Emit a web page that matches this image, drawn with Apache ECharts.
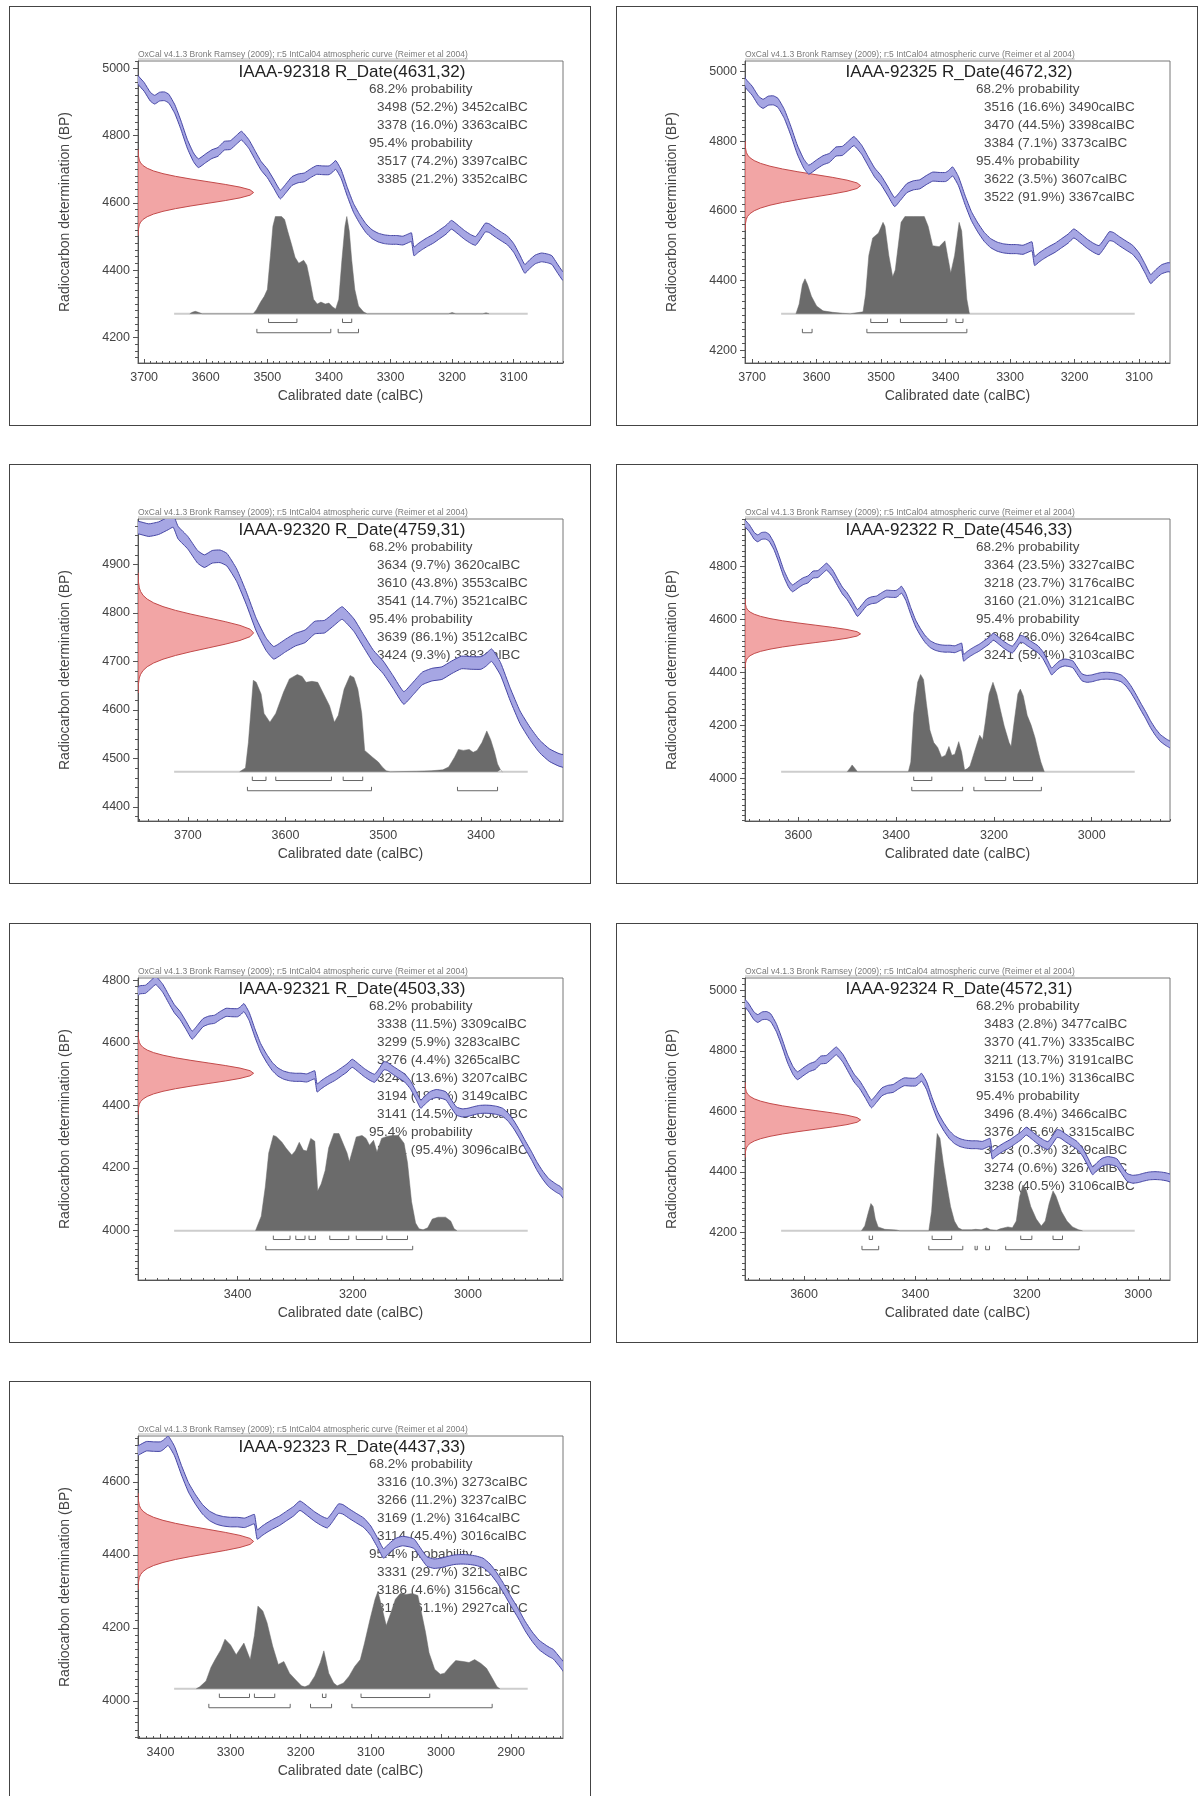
<!DOCTYPE html>
<html>
<head>
<meta charset="utf-8">
<title>OxCal radiocarbon calibration plots</title>
<script src="https://cdn.jsdelivr.net/npm/echarts@6/dist/echarts.min.js"></script>
<style>
  html, body { margin: 0; padding: 0; background: #fff; }
  body { width: 1200px; height: 1796px; position: relative; overflow: hidden; }
  .panel { position: absolute; width: 582px; height: 420px; border: 1px solid #444; box-sizing: border-box; background: #fff; }
</style>
</head>
<body>
<div id="p0" class="panel" style="left:9px;top:6px"></div>
<div id="p1" class="panel" style="left:616px;top:6px"></div>
<div id="p2" class="panel" style="left:9px;top:464px"></div>
<div id="p3" class="panel" style="left:616px;top:464px"></div>
<div id="p4" class="panel" style="left:9px;top:923px"></div>
<div id="p5" class="panel" style="left:616px;top:923px"></div>
<div id="p6" class="panel" style="left:9px;top:1381px;height:420px"></div>
<script>
// ---------------- texts ----------------
const HEADER_TEXT = 'OxCal v4.1.3 Bronk Ramsey (2009); r:5 IntCal04 atmospheric curve (Reimer et al 2004)';
const X_TITLE = 'Calibrated date (calBC)';
const Y_TITLE = 'Radiocarbon determination (BP)';

// ---------------- shared IntCal04 calibration curve ----------------
const calYears = [3760,3750,3740,3730,3720,3715,3710,3700,3690,3683,3675,3667,3660,3650,3640,3630,3620,3612,3600,3590,3580,3570,3560,3550,3542,3530,3520,3510,3500,3490,3479,3470,3460,3450,3440,3430,3420,3410,3400,3395,3389,3380,3370,3360,3350,3340,3330,3320,3310,3300,3290,3280,3272,3266,3262,3255,3248,3240,3230,3220,3210,3201,3190,3180,3170,3162,3155,3146,3140,3130,3120,3110,3100,3090,3082,3074,3065,3055,3045,3038,3030,3020,3010,3000,2990,2980,2970,2960,2950,2940,2930,2920,2910,2900,2890,2880,2870,2860,2850,2845,2840,2830,2820];
const calBP    = [4978,4976,4971,4975,4985,4990,4966,4945,4916,4907,4916,4917,4910,4878,4830,4776,4736,4718,4733,4745,4752,4770,4772,4788,4800,4775,4742,4710,4688,4658,4625,4643,4665,4673,4676,4688,4698,4697,4697,4703,4713,4685,4632,4585,4552,4525,4507,4497,4492,4490,4490,4488,4494,4498,4456,4466,4475,4484,4494,4507,4520,4535,4520,4505,4493,4487,4503,4527,4525,4512,4500,4488,4466,4432,4404,4418,4432,4438,4435,4430,4408,4382,4376,4378,4383,4387,4388,4387,4384,4378,4362,4337,4306,4272,4240,4205,4176,4153,4139,4133,4128,4105,4080];
const calHalfWidth = 13;   // 1-sigma half width of the band (BP)

// normal profile of the measured date (offsets in sigma, relative density)
const gaussSigmaSteps = [-4,-3.5,-3,-2.75,-2.5,-2.25,-2,-1.75,-1.5,-1.25,-1,-0.75,-0.5,-0.25,0,0.25,0.5,0.75,1,1.25,1.5,1.75,2,2.25,2.5,2.75,3,3.5,4];
const gaussDensity    = [0.0003,0.0022,0.0111,0.0228,0.0439,0.0796,0.1353,0.2163,0.3247,0.4578,0.6065,0.7548,0.8825,0.9692,1,0.9692,0.8825,0.7548,0.6065,0.4578,0.3247,0.2163,0.1353,0.0796,0.0439,0.0228,0.0111,0.0022,0.0003];

// ---------------- panel 1 : IAAA-92318 ----------------
const p1Name = 'IAAA-92318';
const p1Date = [4631, 32];
const p1XRange = [3020, 3710];
const p1YRange = [4124, 5022];
const p1XTicks = [3700,3600,3500,3400,3300,3200,3100];
const p1YTicks = [4200,4400,4600,4800,5000];
const p1Range68 = [[3498,52.2,3452],[3378,16.0,3363]];
const p1Range95 = [[3517,74.2,3397],[3385,21.2,3352]];
const p1PostYears = [3626,3622,3617,3612,3606,3523,3518,3511,3505,3500,3495,3491,3487,3477,3472,3467,3461,3455,3449,3441,3436,3431,3425,3419,3413,3406,3400,3394,3389,3384,3379,3374,3371,3367,3363,3358,3352,3344,3338,3206,3200,3194,3150,3145,3140];
const p1PostProb  = [0,0.015,0.025,0.015,0,0,0.04,0.12,0.18,0.25,0.6,0.9,1.0,1.0,0.97,0.85,0.72,0.58,0.52,0.55,0.5,0.35,0.15,0.1,0.12,0.1,0.11,0.07,0.05,0.15,0.55,0.9,1.0,0.85,0.55,0.25,0.08,0.02,0,0,0.012,0,0,0.01,0];

// ---------------- panel 2 : IAAA-92325 ----------------
const p2Name = 'IAAA-92325';
const p2Date = [4672, 32];
const p2XRange = [3052, 3711];
const p2YRange = [4163, 5030];
const p2XTicks = [3700,3600,3500,3400,3300,3200,3100];
const p2YTicks = [4200,4400,4600,4800,5000];
const p2Range68 = [[3516,16.6,3490],[3470,44.5,3398],[3384,7.1,3373]];
const p2Range95 = [[3622,3.5,3607],[3522,91.9,3367]];
const p2PostYears = [3632,3627,3622,3618,3614,3608,3600,3590,3575,3560,3548,3528,3524,3519,3513,3504,3497,3494,3488,3482,3478,3469,3463,3450,3440,3433,3427,3420,3410,3401,3397,3392,3386,3379,3375,3371,3367,3363];
const p2PostProb  = [0,0.1,0.3,0.36,0.3,0.18,0.08,0.03,0.015,0.005,0,0.02,0.2,0.6,0.78,0.83,0.94,0.9,0.6,0.38,0.45,0.94,1.0,1.0,1.0,1.0,0.9,0.7,0.69,0.75,0.6,0.42,0.6,0.94,0.85,0.5,0.15,0];

// ---------------- panel 3 : IAAA-92320 ----------------
const p3Name = 'IAAA-92320';
const p3Date = [4759, 31];
const p3XRange = [3316, 3751];
const p3YRange = [4371, 4994];
const p3XTicks = [3700,3600,3500,3400];
const p3YTicks = [4400,4500,4600,4700,4800,4900];
const p3Range68 = [[3634,9.7,3620],[3610,43.8,3553],[3541,14.7,3521]];
const p3Range95 = [[3639,86.1,3512],[3424,9.3,3383]];
const p3PostYears = [3647,3641,3638,3633,3630,3625,3622,3616,3610,3602,3596,3588,3583,3579,3573,3567,3561,3555,3550,3546,3540,3534,3530,3526,3522,3519,3511,3505,3501,3497,3493,3466,3451,3439,3433,3427,3423,3418,3412,3408,3404,3399,3394,3390,3386,3383,3380,3378];
const p3PostProb  = [0,0.04,0.3,0.94,0.92,0.8,0.6,0.51,0.6,0.82,0.955,1.0,0.98,0.92,0.93,0.92,0.8,0.68,0.51,0.58,0.85,0.99,0.97,0.85,0.6,0.22,0.15,0.1,0.05,0.01,0,0.005,0.01,0.02,0.05,0.15,0.23,0.22,0.23,0.2,0.22,0.3,0.42,0.33,0.2,0.08,0.02,0];

// ---------------- panel 4 : IAAA-92322 ----------------
const p4Name = 'IAAA-92322';
const p4Date = [4546, 33];
const p4XRange = [2840, 3709];
const p4YRange = [3839, 4980];
const p4XTicks = [3600,3400,3200,3000];
const p4YTicks = [4000,4200,4400,4600,4800];
const p4Range68 = [[3364,23.5,3327],[3218,23.7,3176],[3160,21.0,3121]];
const p4Range95 = [[3368,36.0,3264],[3241,59.4,3103]];
const p4PostYears = [3500,3494,3490,3485,3479,3375,3370,3364,3356,3350,3344,3338,3331,3323,3315,3307,3299,3292,3286,3280,3272,3266,3260,3255,3249,3237,3229,3223,3218,3210,3202,3194,3186,3179,3169,3165,3159,3151,3146,3140,3132,3124,3116,3110,3104,3097];
const p4PostProb  = [0,0.04,0.07,0.04,0,0,0.1,0.6,0.92,1.0,0.95,0.7,0.43,0.3,0.25,0.15,0.17,0.26,0.17,0.18,0.31,0.2,0.02,0.03,0.06,0.25,0.375,0.33,0.5,0.8,0.92,0.8,0.62,0.47,0.3,0.26,0.5,0.8,0.85,0.78,0.58,0.48,0.35,0.22,0.1,0];

// ---------------- panel 5 : IAAA-92321 ----------------
const p5Name = 'IAAA-92321';
const p5Date = [4503, 33];
const p5XRange = [2835, 3573];
const p5YRange = [3841, 4808];
const p5XTicks = [3400,3200,3000];
const p5YTicks = [4000,4200,4400,4600,4800];
const p5Range68 = [[3338,11.5,3309],[3299,5.9,3283],[3276,4.4,3265],[3240,13.6,3207],[3194,18.4,3149],[3141,14.5,3105]];
const p5Range95 = [[3351,95.4,3096]];
const p5PostYears = [3369,3359,3352,3346,3338,3333,3323,3316,3306,3300,3293,3286,3280,3273,3266,3261,3255,3248,3242,3233,3224,3217,3210,3206,3194,3184,3177,3171,3164,3158,3150,3141,3131,3121,3111,3105,3098,3091,3085,3078,3070,3062,3052,3039,3030,3024,3019];
const p5PostProb  = [0,0.15,0.45,0.8,0.98,0.97,0.91,0.85,0.78,0.82,0.91,0.83,0.82,0.95,0.92,0.41,0.48,0.62,0.85,1.0,1.0,0.9,0.8,0.71,0.965,0.98,0.95,0.88,0.93,0.81,0.95,0.97,0.98,0.98,0.9,0.7,0.3,0.08,0.02,0.01,0.03,0.12,0.14,0.14,0.1,0.02,0];

// ---------------- panel 6 : IAAA-92324 ----------------
const p6Name = 'IAAA-92324';
const p6Date = [4572, 31];
const p6XRange = [2943, 3706];
const p6YRange = [4043, 5041];
const p6XTicks = [3600,3400,3200,3000];
const p6YTicks = [4200,4400,4600,4800,5000];
const p6Range68 = [[3483,2.8,3477],[3370,41.7,3335],[3211,13.7,3191],[3153,10.1,3136]];
const p6Range95 = [[3496,8.4,3466],[3376,45.6,3315],[3293,0.3,3289],[3274,0.6,3267],[3238,40.5,3106]];
const p6PostYears = [3497,3491,3485,3480,3476,3472,3467,3455,3435,3428,3376,3371,3365,3361,3356,3350,3343,3337,3330,3323,3316,3299,3292,3282,3272,3265,3254,3248,3234,3226,3219,3213,3207,3201,3193,3183,3174,3167,3160,3153,3148,3138,3128,3118,3107,3100];
const p6PostProb  = [0,0.05,0.18,0.28,0.25,0.12,0.04,0.015,0.008,0,0,0.2,0.7,1.0,0.95,0.7,0.45,0.25,0.1,0.03,0.01,0.01,0.015,0.01,0.03,0.01,0.005,0.02,0.04,0.03,0.1,0.35,0.47,0.42,0.25,0.12,0.05,0.1,0.28,0.41,0.36,0.2,0.1,0.04,0.01,0];

// ---------------- panel 7 : IAAA-92323 ----------------
const p7Name = 'IAAA-92323';
const p7Date = [4437, 33];
const p7XRange = [2826, 3432];
const p7YRange = [3898, 4726];
const p7XTicks = [3400,3300,3200,3100,3000,2900];
const p7YTicks = [4000,4200,4400,4600];
const p7Range68 = [[3316,10.3,3273],[3266,11.2,3237],[3169,1.2,3164],[3114,45.4,3016]];
const p7Range95 = [[3331,29.7,3215],[3186,4.6,3156],[3127,61.1,2927]];
const p7PostYears = [3349,3344,3335,3328,3322,3314,3308,3300,3292,3281,3272,3266,3261,3254,3248,3240,3232,3224,3216,3207,3199,3194,3188,3180,3172,3167,3160,3153,3148,3139,3131,3123,3115,3109,3101,3094,3090,3085,3078,3071,3065,3058,3050,3041,3033,3028,3022,3017,3009,3001,2995,2987,2979,2968,2960,2952,2943,2935,2927,2920,2916];
const p7PostProb  = [0,0.02,0.08,0.22,0.3,0.4,0.51,0.45,0.35,0.47,0.3,0.55,0.85,0.8,0.68,0.44,0.25,0.28,0.16,0.09,0.03,0.02,0.04,0.13,0.27,0.39,0.16,0.06,0.03,0.06,0.13,0.23,0.3,0.47,0.72,0.92,1.0,0.86,0.65,0.79,0.92,0.98,0.97,0.98,0.96,0.79,0.58,0.37,0.2,0.15,0.16,0.23,0.29,0.28,0.27,0.3,0.26,0.21,0.11,0.02,0];

const panels = [
  {name:p1Name, date:p1Date, xr:p1XRange, yr:p1YRange, xt:p1XTicks, yt:p1YTicks, r68:p1Range68, r95:p1Range95, py:p1PostYears, pp:p1PostProb, xMinor:10},
  {name:p2Name, date:p2Date, xr:p2XRange, yr:p2YRange, xt:p2XTicks, yt:p2YTicks, r68:p2Range68, r95:p2Range95, py:p2PostYears, pp:p2PostProb, xMinor:10},
  {name:p3Name, date:p3Date, xr:p3XRange, yr:p3YRange, xt:p3XTicks, yt:p3YTicks, r68:p3Range68, r95:p3Range95, py:p3PostYears, pp:p3PostProb, xMinor:10},
  {name:p4Name, date:p4Date, xr:p4XRange, yr:p4YRange, xt:p4XTicks, yt:p4YTicks, r68:p4Range68, r95:p4Range95, py:p4PostYears, pp:p4PostProb, xMinor:20},
  {name:p5Name, date:p5Date, xr:p5XRange, yr:p5YRange, xt:p5XTicks, yt:p5YTicks, r68:p5Range68, r95:p5Range95, py:p5PostYears, pp:p5PostProb, xMinor:20},
  {name:p6Name, date:p6Date, xr:p6XRange, yr:p6YRange, xt:p6XTicks, yt:p6YTicks, r68:p6Range68, r95:p6Range95, py:p6PostYears, pp:p6PostProb, xMinor:20},
  {name:p7Name, date:p7Date, xr:p7XRange, yr:p7YRange, xt:p7XTicks, yt:p7YTicks, r68:p7Range68, r95:p7Range95, py:p7PostYears, pp:p7PostProb, xMinor:10}
];

// ---------------- layout / style ----------------
const FONT = "'Liberation Sans', Arial, Helvetica, sans-serif";
const GRID = {left: 128, top: 54, width: 425, height: 302};
const RED_WIDTH_FRAC = 0.272;          // red curve peak width as fraction of plot width
const POST_BASE_FRAC = 0.163;          // baseline of posterior (fraction of plot height)
const POST_PEAK_FRAC = 0.485;          // top of posterior
const BASE_X_FRAC = [0.085, 0.917];    // baseline horizontal extent
const BR68 = -0.09, BR95 = -0.195, BR_TICK = 0.04;

function minorTicks(lo, hi, step) {
  const out = [];
  for (let v = Math.ceil(lo / step) * step; v <= hi; v += step) out.push(v);
  return out;
}
function measure(txt, font) {
  const c = document.createElement('canvas').getContext('2d');
  c.font = font; return c.measureText(txt).width;
}
function fmtRange(r) {
  return r[0] + ' (' + r[1].toFixed(1) + '%) ' + r[2] + 'calBC';
}

function buildOption(p) {
  const xMin = p.xr[0], xMax = p.xr[1];
  const yMin = p.yr[0], yMax = p.yr[1];
  const span = 1 / (POST_PEAK_FRAC - POST_BASE_FRAC);
  const pMin = -POST_BASE_FRAC * span, pMax = pMin + span;
  const baseStart = xMax - BASE_X_FRAC[0] * (xMax - xMin);
  const baseEnd = xMax - BASE_X_FRAC[1] * (xMax - xMin);

  const axisLineStyle = {color: '#555', width: 1};
  const labelStyle = {color: '#444', fontSize: 12.5, fontFamily: FONT};

  const post = p.py.map((y, i) => [y, p.pp[i]]);
  const brackets = p.r68.map(r => [r[0], r[2], BR68]).concat(p.r95.map(r => [r[0], r[2], BR95]));
  const gauss = gaussSigmaSteps.map((k, i) => [gaussDensity[i], p.date[0] + k * p.date[1]]);
  const cal = calYears.map((y, i) => [y, calBP[i]]);

  const lines = [{t: '68.2% probability', ind: 0}]
    .concat(p.r68.map(r => ({t: fmtRange(r), ind: 1})))
    .concat([{t: '95.4% probability', ind: 0}])
    .concat(p.r95.map(r => ({t: fmtRange(r), ind: 1})));

  const headerFont = '8.5px ' + FONT;
  const hw = measure(HEADER_TEXT, headerFont);
  const graphic = [
    {type: 'text', x: GRID.left, y: 48, z: 0,
      style: {text: HEADER_TEXT, fontSize: 8.5, fontFamily: FONT, fill: '#7a7a7a', verticalAlign: 'middle', align: 'left'}},
    {type: 'line', z: 0, shape: {x1: GRID.left, y1: 52, x2: GRID.left + hw, y2: 52},
      style: {stroke: '#8a8a8a', lineWidth: 0.6}},
    {type: 'text', x: 342, y: 65, z: 0,
      style: {text: p.name + ' R_Date(' + p.date[0] + ',' + p.date[1] + ')', fontSize: 17, fontFamily: FONT,
        fill: '#222', align: 'center', verticalAlign: 'middle'}}
  ];
  lines.forEach((l, i) => {
    graphic.push({type: 'text', x: 359 + (l.ind ? 8 : 0), y: 82 + i * 18, z: 0,
      style: {text: l.t, fontSize: 13.5, fontFamily: FONT, fill: '#4a4a4a', align: 'left', verticalAlign: 'middle'}});
  });

  return {
    animation: false,
    backgroundColor: '#fff',
    grid: {left: GRID.left, top: GRID.top, width: GRID.width, height: GRID.height,
      show: true, borderColor: '#777', borderWidth: 1, backgroundColor: 'transparent'},
    graphic: graphic,
    xAxis: [
      {type: 'value', min: xMin, max: xMax, inverse: true, position: 'bottom',
        axisLine: {show: true, onZero: false, lineStyle: axisLineStyle},
        axisTick: {show: true, inside: true, length: 4, customValues: p.xt, lineStyle: axisLineStyle},
        axisLabel: Object.assign({customValues: p.xt, margin: 8, formatter: v => String(v)}, labelStyle),
        splitLine: {show: false},
        name: X_TITLE, nameLocation: 'middle', nameGap: 21,
        nameTextStyle: {color: '#444', fontSize: 14, fontFamily: FONT}},
      {type: 'value', min: xMin, max: xMax, inverse: true, position: 'bottom',
        axisLine: {show: false, onZero: false},
        axisTick: {show: true, inside: true, length: 2, customValues: minorTicks(xMin, xMax, p.xMinor), lineStyle: axisLineStyle},
        axisLabel: {show: false}, splitLine: {show: false}},
      {type: 'value', min: 0, max: 1 / RED_WIDTH_FRAC, show: false, axisLine: {onZero: false}}
    ],
    yAxis: [
      {type: 'value', min: yMin, max: yMax, position: 'left',
        axisLine: {show: true, onZero: false, lineStyle: axisLineStyle},
        axisTick: {show: true, inside: false, length: 5, customValues: p.yt, lineStyle: axisLineStyle},
        axisLabel: Object.assign({customValues: p.yt, margin: 8, formatter: v => String(v)}, labelStyle),
        splitLine: {show: false},
        name: Y_TITLE, nameLocation: 'middle', nameGap: 66,
        nameTextStyle: {color: '#444', fontSize: 14, fontFamily: FONT}},
      {type: 'value', min: yMin, max: yMax, position: 'left',
        axisLine: {show: false, onZero: false},
        axisTick: {show: true, inside: false, length: 3, customValues: minorTicks(yMin, yMax, 20), lineStyle: axisLineStyle},
        axisLabel: {show: false}, splitLine: {show: false}},
      {type: 'value', min: pMin, max: pMax, show: false, axisLine: {onZero: false}}
    ],
    series: [
      { // posterior baseline
        type: 'line', xAxisIndex: 0, yAxisIndex: 2, z: 2, silent: true, symbol: 'none',
        data: [[baseStart, 0], [baseEnd, 0]],
        lineStyle: {color: '#cdcdcd', width: 2}
      },
      { // posterior probability distribution
        type: 'line', xAxisIndex: 0, yAxisIndex: 2, z: 3, silent: true, symbol: 'none',
        data: post,
        lineStyle: {color: '#6b6b6b', width: 0.5},
        areaStyle: {color: '#6b6b6b', opacity: 1}
      },
      { // range brackets
        type: 'custom', xAxisIndex: 0, yAxisIndex: 2, z: 3, silent: true,
        data: brackets,
        renderItem: function (params, api) {
          const a = api.value(0), b = api.value(1), y = api.value(2);
          return {type: 'polyline',
            shape: {points: [api.coord([a, y + BR_TICK]), api.coord([a, y]), api.coord([b, y]), api.coord([b, y + BR_TICK])]},
            style: {stroke: '#666', lineWidth: 1, fill: null}};
        }
      },
      { // measured radiocarbon date (normal distribution)
        type: 'custom', xAxisIndex: 2, yAxisIndex: 0, z: 4, silent: true, clip: true,
        data: gauss,
        renderItem: function (params, api) {
          if (params.dataIndex !== 0) return null;
          const pts = gauss.map(g => api.coord(g));
          pts.push(api.coord([0, gauss[gauss.length - 1][1]]));
          pts.push(api.coord([0, gauss[0][1]]));
          return {type: 'polygon', shape: {points: pts},
            style: {fill: '#f2a5a5', stroke: '#c24a4a', lineWidth: 1}};
        }
      },
      { // calibration curve band
        type: 'custom', xAxisIndex: 0, yAxisIndex: 0, z: 5, silent: true, clip: true,
        data: cal,
        renderItem: function (params, api) {
          if (params.dataIndex !== 0) return null;
          const pts = [];
          for (let i = 0; i < cal.length; i++) pts.push(api.coord([cal[i][0], cal[i][1] + calHalfWidth]));
          for (let i = cal.length - 1; i >= 0; i--) pts.push(api.coord([cal[i][0], cal[i][1] - calHalfWidth]));
          return {type: 'polygon', shape: {points: pts, smooth: 0.15},
            style: {fill: '#a6a6e3', stroke: '#4646a4', lineWidth: 1}};
        }
      }
    ]
  };
}

panels.forEach((p, i) => {
  const el = document.getElementById('p' + i);
  const chart = echarts.init(el, null, {renderer: 'canvas', width: 580, height: 418});
  chart.setOption(buildOption(p));
});
</script>
</body>
</html>
